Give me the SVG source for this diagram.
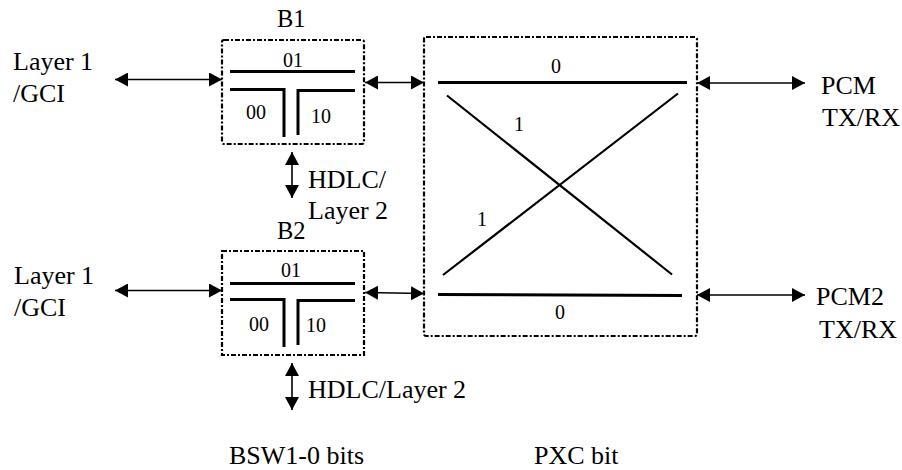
<svg xmlns="http://www.w3.org/2000/svg" width="902" height="470" viewBox="0 0 902 470">
<style>
text{font-family:"Liberation Serif","Times New Roman",serif;fill:#000}
.l{font-size:26px}
.b{font-size:24.5px}
.s{font-size:20px}
.box{fill:none;stroke:#000;stroke-width:2.2;stroke-dasharray:5 2 2 2}
.w{fill:none;stroke:#000;stroke-width:3}
.x{fill:none;stroke:#000;stroke-width:2.2}
.a{fill:none;stroke:#000;stroke-width:1.6;marker-start:url(#h);marker-end:url(#h)}
</style>
<defs>
<marker id="h" markerUnits="userSpaceOnUse" markerWidth="14" markerHeight="14" refX="13" refY="7" orient="auto-start-reverse"><path d="M0 0L13 7L0 14Z" fill="#000"/></marker>
</defs>
<rect width="902" height="470" fill="#fff"/>
<g id="connectors">
<path class="a" d="M115 79.5H222"/>
<path class="a" d="M365 82.5H424"/>
<path class="a" d="M292 152V198"/>
<path class="a" d="M115 290.5H222"/>
<path class="a" d="M365 292.5L424 293.5"/>
<path class="a" d="M292 363V410"/>
<path class="a" d="M697 83H805"/>
<path class="a" d="M697 295H805"/>
</g>
<g id="layer1-a"><text class="l" x="13" y="70">Layer 1</text><text class="l" x="13" y="102">/GCI</text></g>
<g id="layer1-b"><text class="l" x="14" y="284">Layer 1</text><text class="l" x="14" y="316">/GCI</text></g>
<g id="B1">
<text class="b" x="277" y="27">B1</text>
<rect class="box" x="222" y="40" width="142" height="104" rx="2"/>
<path class="w" d="M230 71.5H355M230 89.5H284V137M355 90.5H298V135"/>
<text class="s" x="283" y="67">01</text>
<text class="s" x="246" y="119">00</text>
<text class="s" x="311" y="123">10</text>
</g>
<g id="B2">
<text class="b" x="277" y="239">B2</text>
<rect class="box" x="222" y="251" width="142" height="104"/>
<path class="w" d="M230 283.5H355M230 299.5H284V347M355 300.5H298V345"/>
<text class="s" x="281" y="277">01</text>
<text class="s" x="249" y="331">00</text>
<text class="s" x="306" y="332">10</text>
</g>
<g id="hdlc-a"><text class="l" x="308" y="188">HDLC/</text><text class="l" x="308" y="219">Layer 2</text></g>
<g id="hdlc-b"><text class="l" x="308" y="398">HDLC/Layer 2</text></g>
<g id="PXC">
<rect class="box" x="424" y="37" width="273" height="299" rx="2"/>
<path class="w" d="M438 82.5H687"/>
<path class="x" d="M447 95.5L672 274.5M443 275L678 93.5"/>
<path class="w" stroke-width="2.5" d="M438 294.5L682 295.5"/>
<text class="s" x="551" y="73">0</text>
<text class="s" x="514" y="131">1</text>
<text class="s" x="477" y="226">1</text>
<text class="s" x="555" y="319">0</text>
</g>
<g id="pcm"><text class="l" x="821" y="94">PCM</text><text class="l" x="822" y="126">TX/RX</text></g>
<g id="pcm2"><text class="l" x="816" y="305">PCM2</text><text class="l" x="819" y="338">TX/RX</text></g>
<g id="bsw"><text class="l" x="229" y="464">BSW1-0 bits</text></g>
<g id="pxc-bit"><text class="l" x="534" y="464">PXC bit</text></g>
</svg>
